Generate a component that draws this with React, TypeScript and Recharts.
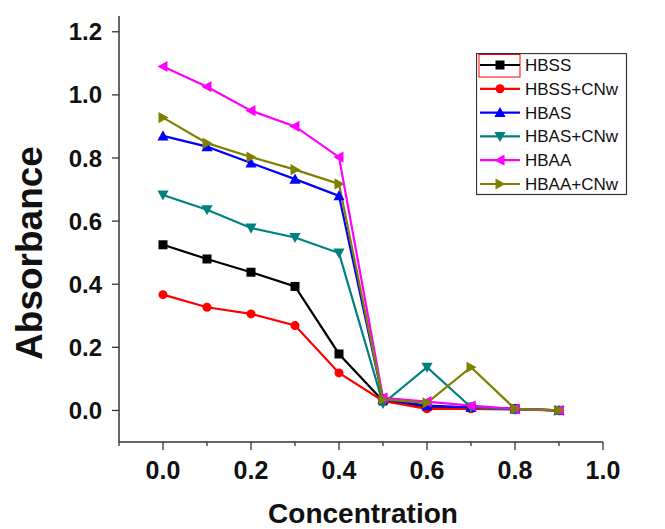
import React from 'react';
import { LineChart, Line, XAxis, YAxis, Legend } from 'recharts';

const concentration = [0, 0.1, 0.2, 0.3, 0.4, 0.5, 0.6, 0.7, 0.8, 0.9];
const hbss = [0.525, 0.48, 0.438, 0.393, 0.179, 0.03, 0.012, 0.01, 0.005, 0.0];
const hbssCNw = [0.367, 0.327, 0.306, 0.269, 0.119, 0.03, 0.005, 0.005, 0.003, 0.0];
const hbas = [0.87, 0.836, 0.784, 0.733, 0.68, 0.035, 0.015, 0.01, 0.005, 0.0];
const hbasCNw = [0.683, 0.636, 0.578, 0.548, 0.499, 0.022, 0.137, 0.01, 0.003, 0.0];
const hbaa = [1.09, 1.026, 0.95, 0.9, 0.803, 0.04, 0.028, 0.015, 0.005, 0.0];
const hbaaCNw = [0.928, 0.847, 0.803, 0.763, 0.718, 0.035, 0.024, 0.137, 0.005, 0.0];

const xTicks = [-0.1, 0, 0.1, 0.2, 0.3, 0.4, 0.5, 0.6, 0.7, 0.8, 0.9, 1.0];
const yTicks = [0, 0.2, 0.4, 0.6, 0.8, 1.0, 1.2];

const seriesNames = ['HBSS', 'HBSS+CNw', 'HBAS', 'HBAS+CNw', 'HBAA', 'HBAA+CNw'];
const seriesKeys = ['hbss', 'hbssCNw', 'hbas', 'hbasCNw', 'hbaa', 'hbaaCNw'];
const seriesColors = ['#000000', '#FF0000', '#0000FF', '#008080', '#FF00FF', '#808000'];
const seriesShapes = ['square', 'circle', 'up', 'down', 'left', 'right'];
const seriesValues = [hbss, hbssCNw, hbas, hbasCNw, hbaa, hbaaCNw];

const data = concentration.map((c, i) => {
  const row: any = { c };
  seriesKeys.forEach((k, j) => {
    row[k] = seriesValues[j][i];
  });
  return row;
});

const FONT = '"Liberation Sans", Arial, Helvetica, sans-serif';

function Marker({ shape, cx, cy, color, s }: any) {
  const a = s * 0.62;
  const b = s * 0.5;
  switch (shape) {
    case 'square':
      return <rect x={cx - s / 2} y={cy - s / 2} width={s} height={s} fill={color} />;
    case 'circle':
      return <circle cx={cx} cy={cy} r={s / 2} fill={color} />;
    case 'up':
      return <polygon points={`${cx},${cy - a} ${cx - a},${cy + b} ${cx + a},${cy + b}`} fill={color} />;
    case 'down':
      return <polygon points={`${cx},${cy + a} ${cx - a},${cy - b} ${cx + a},${cy - b}`} fill={color} />;
    case 'left':
      return <polygon points={`${cx - a},${cy} ${cx + b},${cy - a} ${cx + b},${cy + a}`} fill={color} />;
    case 'right':
      return <polygon points={`${cx + a},${cy} ${cx - b},${cy - a} ${cx - b},${cy + a}`} fill={color} />;
    default:
      return null;
  }
}

const XTick = (props: any) => {
  const { x, y, payload } = props;
  const v = payload.value;
  const n = Math.round(v * 10);
  const major = n >= 0 && n % 2 === 0;
  return (
    <g>
      <line x1={x} y1={y} x2={x} y2={y + (major ? 8 : 4)} stroke="#333" strokeWidth={1.3} />
      {major && (
        <text x={x} y={y + 37} textAnchor="middle" fontSize={25} fontWeight="bold" fill="#111" fontFamily={FONT}>
          {v.toFixed(1)}
        </text>
      )}
    </g>
  );
};

const YTick = (props: any) => {
  const { x, y, payload } = props;
  const v = payload.value;
  return (
    <g>
      <line x1={x} y1={y} x2={x - 7} y2={y} stroke="#333" strokeWidth={1.3} />
      <text x={x - 17} y={y + 8.5} textAnchor="end" fontSize={24} fontWeight="bold" fill="#111" fontFamily={FONT}>
        {v.toFixed(1)}
      </text>
    </g>
  );
};

const LegendBox = () => {
  const rowY = (i: number) => 12 + i * 23.8;
  return (
    <svg width={152} height={143} style={{ display: 'block' }}>
      <rect x={0.5} y={0.5} width={150} height={141} fill="#fff" stroke="#333" strokeWidth={1.2} />
      <rect x={3} y={1.5} width={41} height={22.5} fill="none" stroke="#FF0000" strokeWidth={1} />
      {seriesNames.map((name, i) => (
        <g key={name}>
          <line x1={4} y1={rowY(i)} x2={44} y2={rowY(i)} stroke={seriesColors[i]} strokeWidth={2.2} />
          <Marker shape={seriesShapes[i]} cx={24} cy={rowY(i)} color={seriesColors[i]} s={9} />
          <text x={49} y={rowY(i) + 6} fontSize={17} fill="#111" fontFamily={FONT}>
            {name}
          </text>
        </g>
      ))}
    </svg>
  );
};

export default function App() {
  return (
    <div style={{ width: 665, height: 529 }}>
      <style>{`body{margin:0;}`}</style>
      <LineChart
        width={665}
        height={529}
        data={data}
        margin={{ top: 16, right: 62, left: 59, bottom: 47 }}
        style={{ background: '#fff' }}
      >
        <XAxis
          dataKey="c"
          type="number"
          domain={[-0.1, 1.0]}
          ticks={xTicks}
          interval={0}
          height={40}
          tickSize={0}
          tickMargin={0}
          tickLine={false}
          tick={<XTick />}
          axisLine={{ stroke: '#333', strokeWidth: 1.5 }}
          allowDataOverflow
          label={() => (
            <text x={363} y={523} textAnchor="middle" fontSize={28} fontWeight="bold" fill="#111" fontFamily={FONT}>
              Concentration
            </text>
          )}
        />
        <YAxis
          type="number"
          domain={[-0.1, 1.25]}
          ticks={yTicks}
          interval={0}
          width={60}
          tickSize={0}
          tickMargin={0}
          tickLine={false}
          tick={<YTick />}
          axisLine={{ stroke: '#333', strokeWidth: 1.5 }}
          allowDataOverflow
          label={() => (
            <text
              x={42}
              y={253}
              transform="rotate(-90 42 253)"
              textAnchor="middle"
              fontSize={37}
              fontWeight="bold"
              fill="#111"
              fontFamily={FONT}
            >
              Absorbance
            </text>
          )}
        />
        <Legend
          layout="vertical"
          align="center"
          verticalAlign="middle"
          wrapperStyle={{ position: 'absolute', left: 476, top: 53, width: 152, height: 143 }}
          content={() => <LegendBox />}
        />
        {seriesKeys.map((k, i) => (
          <Line
            key={k}
            dataKey={k}
            name={seriesNames[i]}
            stroke={seriesColors[i]}
            strokeWidth={2.2}
            isAnimationActive={false}
            dot={(p: any) => (
              <Marker key={`${k}-${p.index}`} shape={seriesShapes[i]} cx={p.cx} cy={p.cy} color={seriesColors[i]} s={9} />
            )}
            activeDot={false}
          />
        ))}
      </LineChart>
    </div>
  );
}
